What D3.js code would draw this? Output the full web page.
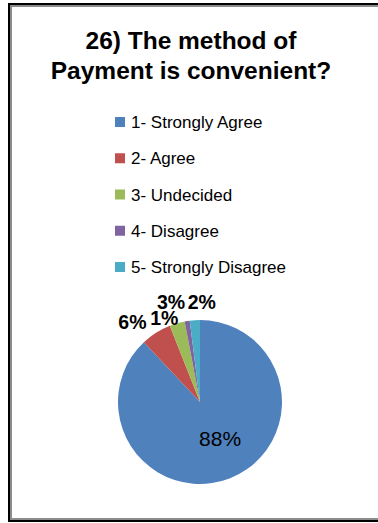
<!DOCTYPE html>
<html>
<head>
<meta charset="utf-8">
<script src="https://cdn.jsdelivr.net/npm/d3@7"></script>
<style>
  html, body { margin: 0; padding: 0; background: #fff; }
  svg { display: block; }
</style>
</head>
<body>
<svg id="chart" width="378" height="523"></svg>
<script>
// Survey answers for question 26
const categories = ["1- Strongly Agree", "2- Agree", "3- Undecided", "4- Disagree", "5- Strongly Disagree"];
const shares = [88, 6, 3, 1, 2];
const labels = ["88%", "6%", "3%", "1%", "2%"];
const colors = ["#4F81BD", "#C0504D", "#9BBB59", "#8064A2", "#4BACC6"];
const titleLines = ["26) The method of", "Payment is convenient?"];

const svg = d3.select("#chart");
const font = "'Liberation Sans', Arial, sans-serif";

// Frame: black outer line with a grey inner line
svg.append("rect").attr("x", 9).attr("y", 4).attr("width", 400).attr("height", 517)
  .attr("fill", "none").attr("stroke", "#000").attr("stroke-width", 2);
svg.append("rect").attr("x", 11).attr("y", 6).attr("width", 400).attr("height", 513)
  .attr("fill", "none").attr("stroke", "#8c8c8c").attr("stroke-width", 2);

// Title
svg.append("text")
  .attr("text-anchor", "middle")
  .attr("font-family", font).attr("font-weight", "bold").attr("font-size", 24.5)
  .attr("fill", "#000")
  .selectAll("tspan").data(titleLines).join("tspan")
  .attr("x", 191).attr("y", (d, i) => 49 + i * 30)
  .text(d => d);

// Legend
const legendY = d3.scalePoint().domain(categories).range([122, 267]);
const legend = svg.append("g").selectAll("g").data(categories).join("g")
  .attr("transform", d => `translate(115,${legendY(d)})`);
legend.append("rect").attr("x", 0).attr("y", -5).attr("width", 10).attr("height", 10)
  .attr("fill", (d, i) => colors[i]);
legend.append("text").attr("x", 16).attr("y", 6)
  .attr("font-family", font).attr("font-size", 17).attr("fill", "#000")
  .text(d => d);

// Pie
const cx = 200, cy = 402, r = 82;
const pie = d3.pie().sort(null).value(d => d.v).startAngle(0).endAngle(2 * Math.PI);
const arcs = pie(categories.map((c, i) => ({ c, v: shares[i], label: labels[i], color: colors[i] })));
const arc = d3.arc().innerRadius(0).outerRadius(r);

const g = svg.append("g").attr("transform", `translate(${cx},${cy})`);
g.selectAll("path").data(arcs).join("path")
  .attr("d", arc)
  .attr("fill", d => d.data.color);

// Data labels: the large slice gets its label inside, small slices outside
const outerLabelArc = d3.arc().innerRadius(r + 18).outerRadius(r + 18);
const innerLabelArc = d3.arc().innerRadius(r * 0.5).outerRadius(r * 0.5);
// Offsets so the small-slice labels spread out
const labelNudge = {
  "2- Agree": [-14, 4],
  "3- Undecided": [-1, -4],
  "4- Disagree": [-20, 15],
  "5- Strongly Disagree": [8, 0]
};

g.selectAll("text.lbl").data(arcs).join("text")
  .attr("class", "lbl")
  .attr("text-anchor", "middle")
  .attr("font-family", font)
  .attr("font-size", d => d.data.v >= 50 ? 21 : 19.5)
  .attr("font-weight", d => d.data.v >= 50 ? "normal" : "bold")
  .attr("fill", "#000")
  .attr("x", d => {
    if (d.data.v >= 50) return innerLabelArc.centroid(d)[0] + 5;
    return outerLabelArc.centroid(d)[0] + labelNudge[d.data.c][0];
  })
  .attr("y", d => {
    if (d.data.v >= 50) return innerLabelArc.centroid(d)[1] + 6;
    return outerLabelArc.centroid(d)[1] + 7 + labelNudge[d.data.c][1];
  })
  .text(d => d.data.label);
</script>
</body>
</html>
